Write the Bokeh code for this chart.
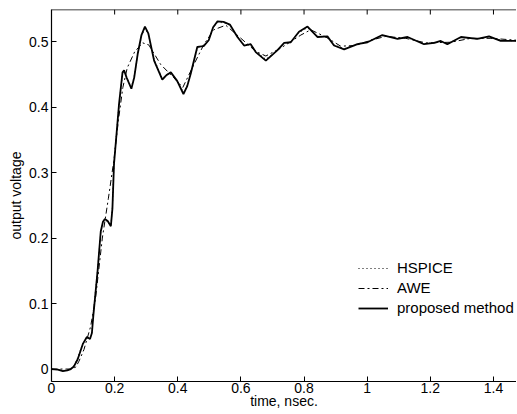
import math
from bokeh.plotting import figure
from bokeh.models import (Range1d, FixedTicker, PrintfTickFormatter,
                          Legend, LegendItem, Span)
from bokeh.embed import file_html
from bokeh.resources import INLINE

# ---- data ----
t_proposed = [0.0, 0.02, 0.036, 0.05, 0.061, 0.071, 0.083, 0.099, 0.112, 0.122, 0.128, 0.133,
              0.146, 0.156, 0.163, 0.169, 0.178, 0.188, 0.193, 0.198, 0.214, 0.225, 0.230, 0.238,
              0.253, 0.262, 0.273, 0.285, 0.296, 0.307, 0.325, 0.351, 0.365, 0.378, 0.398, 0.418,
              0.430, 0.441, 0.462, 0.482, 0.498, 0.512, 0.526, 0.545, 0.565, 0.589, 0.610, 0.631,
              0.647, 0.679, 0.716, 0.737, 0.758, 0.784, 0.811, 0.843, 0.874, 0.895, 0.927, 0.969,
              1.001, 1.048, 1.096, 1.128, 1.180, 1.212, 1.233, 1.254, 1.297, 1.349, 1.386, 1.423,
              1.477]
v_proposed = [0.0, -0.001, -0.003, -0.002, 0.0, 0.004, 0.015, 0.038, 0.049, 0.046, 0.055, 0.084,
              0.15, 0.21, 0.225, 0.229, 0.226, 0.218, 0.245, 0.313, 0.405, 0.453, 0.456, 0.445,
              0.428, 0.445, 0.481, 0.51, 0.523, 0.512, 0.471, 0.442, 0.449, 0.453, 0.440, 0.420,
              0.432, 0.451, 0.492, 0.493, 0.502, 0.522, 0.531, 0.530, 0.526, 0.507, 0.494, 0.496,
              0.484, 0.471, 0.487, 0.498, 0.499, 0.515, 0.523, 0.507, 0.508, 0.494, 0.488, 0.496,
              0.499, 0.510, 0.504, 0.507, 0.496, 0.498, 0.501, 0.496, 0.507, 0.504, 0.508, 0.501,
              0.501]

t_hspice = t_proposed
v_hspice = [0.0, -0.001, -0.002, -0.002, 0.0, 0.005, 0.017, 0.039, 0.048, 0.047, 0.057, 0.088,
            0.152, 0.208, 0.224, 0.228, 0.225, 0.219, 0.248, 0.316, 0.404, 0.451, 0.455, 0.446,
            0.430, 0.447, 0.480, 0.508, 0.520, 0.511, 0.473, 0.444, 0.450, 0.452, 0.441, 0.422,
            0.433, 0.452, 0.490, 0.494, 0.503, 0.521, 0.529, 0.529, 0.525, 0.508, 0.495, 0.496,
            0.485, 0.473, 0.487, 0.497, 0.500, 0.514, 0.521, 0.508, 0.507, 0.495, 0.489, 0.496,
            0.500, 0.509, 0.505, 0.506, 0.497, 0.498, 0.500, 0.497, 0.506, 0.504, 0.507, 0.502,
            0.501]

t_awe = [0.0, 0.061, 0.077, 0.087, 0.103, 0.124, 0.140, 0.161, 0.180, 0.198, 0.212, 0.226,
         0.240, 0.264, 0.289, 0.308, 0.346, 0.387, 0.416, 0.451, 0.482, 0.514, 0.552, 0.600,
         0.647, 0.679, 0.726, 0.790, 0.821, 0.869, 0.916, 0.964, 1.011, 1.059, 1.122, 1.186,
         1.265, 1.328, 1.392, 1.477]
v_awe = [0.0, 0.0, 0.003, 0.012, 0.03, 0.065, 0.11, 0.2, 0.26, 0.32, 0.38, 0.43,
         0.46, 0.485, 0.498, 0.495, 0.465, 0.445, 0.43, 0.465, 0.495, 0.518, 0.525, 0.505,
         0.485, 0.478, 0.49, 0.51, 0.518, 0.507, 0.493, 0.494, 0.502, 0.508, 0.505, 0.498,
         0.499, 0.505, 0.505, 0.502]

x_ticks = [0, 0.2, 0.4, 0.6, 0.8, 1.0, 1.2, 1.4]
y_ticks = [0, 0.1, 0.2, 0.3, 0.4, 0.5]
series_labels = ["HSPICE", "AWE", "proposed method"]

X_MAX = 1.473
Y_MIN, Y_MAX = -0.019, 0.549
FONT = "Liberation Sans"

p = figure(width=516, height=411, output_backend="svg", toolbar_location=None,
           x_range=Range1d(0, X_MAX), y_range=Range1d(Y_MIN, Y_MAX),
           min_border_left=51, min_border_right=0, min_border_top=9, min_border_bottom=0)
p.outline_line_color = None
p.xgrid.visible = False
p.ygrid.visible = False
p.background_fill_color = "white"
p.border_fill_color = "white"

def style_axis(ax, ticks):
    ax.ticker = FixedTicker(ticks=ticks)
    ax.formatter = PrintfTickFormatter(format="%g")
    ax.major_tick_in = 5
    ax.major_tick_out = 0
    ax.minor_tick_line_color = None
    ax.axis_line_color = "black"
    ax.axis_line_width = 1.2
    ax.major_tick_line_color = "black"
    ax.major_label_text_font = FONT
    ax.major_label_text_font_size = "14px"
    ax.major_label_text_color = "black"
    ax.axis_label_text_font = FONT
    ax.axis_label_text_font_size = "14px"
    ax.axis_label_text_font_style = "normal"
    ax.axis_label_text_color = "black"

xa = p.xaxis[0]
style_axis(xa, x_ticks)
xa.axis_label = "time, nsec."
xa.major_label_standoff = 1
xa.axis_label_standoff = -3

ya = p.yaxis[0]
style_axis(ya, y_ticks)
ya.axis_label = "output voltage"
ya.major_label_standoff = 3
ya.axis_label_standoff = 2

# top frame border and inward ticks along it
p.add_layout(Span(location=Y_MAX, dimension="width", line_color="black", line_width=1.5))
p.ray(x=x_ticks, y=[Y_MAX] * len(x_ticks), length=5, length_units="screen",
      angle=-math.pi / 2, line_color="black", line_width=1)

r_h = p.line(t_hspice, v_hspice, line_color="black", line_width=1, line_dash="1 3")
r_a = p.line(t_awe, v_awe, line_color="black", line_width=1, line_dash="6 3 2 3")
r_p = p.line(t_proposed, v_proposed, line_color="black", line_width=1.8)

legend = Legend(items=[LegendItem(label=series_labels[0], renderers=[r_h]),
                       LegendItem(label=series_labels[1], renderers=[r_a]),
                       LegendItem(label=series_labels[2], renderers=[r_p])],
                location=(307, 65))
legend.border_line_color = None
legend.background_fill_alpha = 0
legend.padding = 0
legend.margin = 0
legend.spacing = 3
legend.glyph_width = 30
legend.glyph_height = 16
legend.label_height = 16
legend.label_standoff = 9
legend.label_text_font = FONT
legend.label_text_font_size = "15px"
legend.label_text_color = "black"
p.add_layout(legend, "center")

open("out.html", "w").write(file_html(p, INLINE))
